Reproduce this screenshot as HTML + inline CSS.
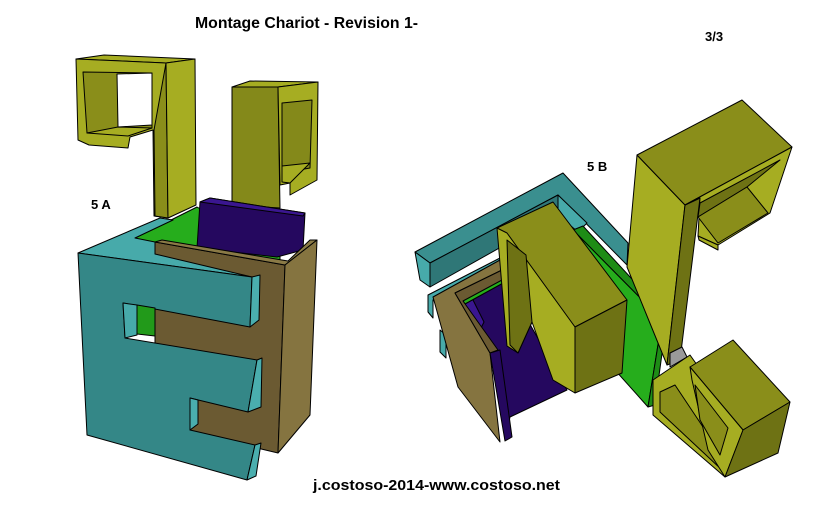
<!DOCTYPE html>
<html><head><meta charset="utf-8"><style>
html,body{margin:0;padding:0;background:#fff;}
svg{display:block;}
text{font-family:"Liberation Sans",Arial,sans-serif;font-weight:bold;fill:#000;}
polygon{stroke:#000;stroke-width:1;stroke-linejoin:round;}
</style></head><body>
<svg width="817" height="521" viewBox="0 0 817 521" xmlns="http://www.w3.org/2000/svg">
<rect width="817" height="521" fill="#fff"/>
<text x="195" y="28" font-size="15.5" textLength="223" lengthAdjust="spacingAndGlyphs">Montage Chariot - Revision 1-</text>
<text x="705" y="41" font-size="13">3/3</text>
<text x="91" y="209" font-size="13">5 A</text>
<text x="587" y="171" font-size="13">5 B</text>
<text x="313" y="490" font-size="15" textLength="247" lengthAdjust="spacingAndGlyphs">j.costoso-2014-www.costoso.net</text>

<!-- LEFT FIGURE 5A -->
<polygon points="76,59 104,55 195,59 166,63" fill="#a6ad22"/>
<polygon points="76,59 166,63 168,218 154,216 153,130 130,137 128,148 89,145 78,140" fill="#a6ad22"/>
<polygon points="83,72 152,73 152,128 87,133" fill="#8a8e1a"/>
<polygon points="117,74 152,73 152,125 118,127" fill="#fff"/>
<polygon points="87,133 118,127 152,128 128,136" fill="#a6ad22"/>
<polygon points="154,130 166,63 168,218 155,216" fill="#8a8e1a"/>
<polygon points="166,63 195,59 196,205 168,218" fill="#a6ad22"/>
<polygon points="232,87 250,81 318,82 278,87" fill="#a6ad22"/>
<polygon points="232,87 278,87 280,208 232,205" fill="#84891a"/>
<polygon points="278,87 318,82 317,180 290,195 290,183 280,185" fill="#a6ad22"/>
<polygon points="282,103 312,100 310,168 282,173" fill="#84891a"/>
<polygon points="282,166 310,163 290,183 282,182" fill="#a6ad22"/>
<!-- green and purple -->
<polygon points="135,238 197,207 280,256 280,262 155,250" fill="#26ad1c"/>
<polygon points="200,202 210,198 305,213 303,250 277,257 197,248" fill="#25085f"/>
<polygon points="200,202 210,198 305,213 303,216" fill="#3a1690"/>
<!-- brown -->
<polygon points="155,242 285,265 278,453 257,448 155,430" fill="#6b5a32"/>
<polygon points="155,242 162,240 288,261 310,240 317,240 285,265" fill="#8a7a46"/>
<polygon points="285,265 317,240 310,415 278,453" fill="#857440"/>
<!-- teal -->
<polygon points="78,253 160,218 173,220 135,238 155,242 155,254 252,277" fill="#47aaaa"/>
<polygon points="78,253 252,277 250,327 123,303 125,338 257,360 248,412 190,398 190,430 255,445 247,480 87,435" fill="#348787"/>
<polygon points="123,303 137,305 137,335 125,338" fill="#47aaaa"/>
<polygon points="137,305 155,308 155,336 137,334" fill="#229a1a"/>
<polygon points="252,277 260,275 259,320 250,327" fill="#4aaeae"/>
<polygon points="257,360 262,358 261,407 248,412" fill="#4aaeae"/>
<polygon points="190,398 198,400 198,424 190,430" fill="#4aaeae"/>
<polygon points="255,445 261,443 256,476 247,480" fill="#4aaeae"/>

<!-- RIGHT FIGURE 5B -->
<polygon points="415,252 563,173 628,243 627,265 558,195 430,263" fill="#3a8f8f"/>
<polygon points="415,252 430,263 430,287 420,280" fill="#47aaaa"/>
<polygon points="430,263 558,195 558,215 430,287" fill="#2f7777"/>
<polygon points="558,195 587,223 578,232 558,215" fill="#47aaaa"/>
<polygon points="428,295 500,258 500,265 433,300 433,318 428,312" fill="#47aaaa"/>
<polygon points="440,330 446,335 446,358 440,352" fill="#47aaaa"/>
<!-- purple -->
<polygon points="463,300 505,280 567,390 510,417 505,440 494,350" fill="#25085f"/>
<polygon points="463,302 472,298 484,322 480,330 470,326" fill="#3a1690"/>
<polygon points="460,296 505,274 505,282 465,304" fill="#26ad1c"/>
<!-- brown panel -->
<polygon points="433,297 500,260 502,270 455,293 490,353 500,442 458,387" fill="#857440"/>
<polygon points="455,293 502,270 502,280 463,301 498,350 490,353" fill="#6b5a32"/>
<polygon points="490,353 500,350 512,437 505,441" fill="#25085f"/>
<!-- green plate -->
<polygon points="573,230 583,226 667,317 662,320" fill="#1e8c16"/>
<polygon points="573,230 662,320 648,407 615,370" fill="#26ad1c"/>
<polygon points="662,320 667,317 655,405 648,407" fill="#1e8c16"/>
<!-- yellow C block -->
<polygon points="497,228 553,202 627,300 575,327" fill="#8a8e1a"/>
<polygon points="497,228 507,233 575,327 575,393 553,380 532,322 518,353 507,346" fill="#a6ad22"/>
<polygon points="507,240 526,255 532,322 518,353 510,345" fill="#6e7214"/>
<polygon points="575,327 627,300 622,373 575,393" fill="#6e7214"/>
<!-- tall yellow -->
<polygon points="637,155 685,205 667,365 627,267" fill="#a6ad22"/>
<polygon points="685,205 700,198 680,360 667,365" fill="#6e7214"/>
<polygon points="637,155 742,100 792,147 685,205" fill="#8a8e1a"/>
<polygon points="685,205 792,147 770,213 718,245 698,236 700,198" fill="#a6ad22"/>
<polygon points="700,203 780,160 747,187 698,217" fill="#6e7214"/>
<polygon points="698,217 747,187 768,213 718,243" fill="#8a8e1a"/>
<polygon points="698,236 718,245 718,250 699,240" fill="#a6ad22"/>
<!-- bottom-right cube -->
<polygon points="670,353 682,347 687,357 670,367" fill="#9a9a9a"/>
<polygon points="653,380 690,355 743,430 725,477 653,415" fill="#a6ad22"/>
<polygon points="660,392 675,385 715,445 722,470 660,412" fill="#8a8e1a"/>
<polygon points="690,367 733,340 790,402 743,430" fill="#8a8e1a"/>
<polygon points="690,367 743,430 725,477 708,450 692,380" fill="#a6ad22"/>
<polygon points="695,385 728,428 720,455 700,420" fill="#8a8e1a"/>
<polygon points="743,430 790,402 778,453 725,477" fill="#6e7214"/>
</svg>
</body></html>
